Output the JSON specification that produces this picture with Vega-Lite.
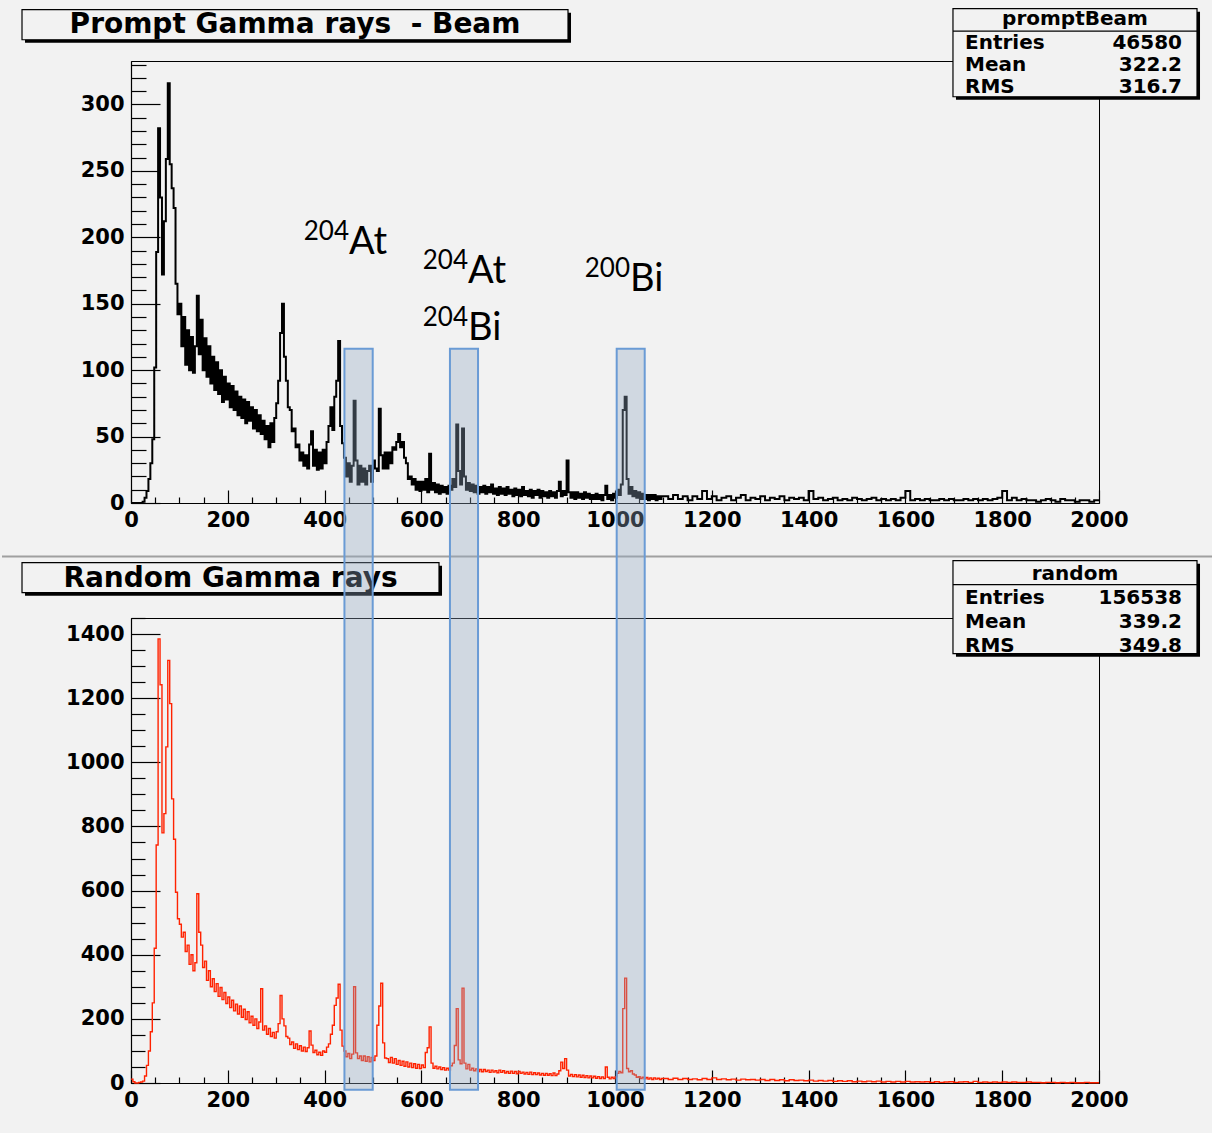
{
"$schema":"https://vega.github.io/schema/vega-lite/v6.json",
"background":"#f2f2f2",
"padding":{"left":0,"top":7,"right":0,"bottom":28},
"bounds":"flush",
"spacing":115,
"config":{
"view":{"stroke":"black","strokeWidth":1},
"axis":{"labelFont":"DejaVu Sans","labelFontWeight":"bold","labelFontSize":21,"labelColor":"black","domainColor":"black","domainWidth":1.2,"tickColor":"black","tickWidth":1.2,"grid":false,"labelFlush":false,"labelOverlap":false,"labelBound":false},
"text":{"font":"Lato","color":"black","baseline":"alphabetic"}
},
"datasets":{
"spec":[
{"e":0,"p":0,"r":12},{"e":4,"p":0,"r":4},{"e":8,"p":0,"r":0},{"e":12,"p":0,"r":0},{"e":16,"p":0,"r":2},{"e":20,"p":0,"r":3},{"e":24,"p":1,"r":6},{"e":28,"p":4,"r":22},{"e":32,"p":9,"r":55},{"e":36,"p":18,"r":100},
{"e":40,"p":30,"r":160},{"e":44,"p":48,"r":250},{"e":48,"p":102,"r":420},{"e":52,"p":189,"r":742},{"e":56,"p":282,"r":1385},{"e":60,"p":230,"r":1242},{"e":64,"p":172,"r":780},{"e":68,"p":212,"r":840},{"e":72,"p":259,"r":1048},{"e":76,"p":316,"r":1318},
{"e":80,"p":255,"r":1183},{"e":84,"p":237,"r":886},{"e":88,"p":222,"r":760},{"e":92,"p":165,"r":595},{"e":96,"p":142,"r":512},{"e":100,"p":150,"r":495},{"e":104,"p":118,"r":455},{"e":108,"p":140,"r":470},{"e":112,"p":104,"r":410},{"e":116,"p":130,"r":430},
{"e":120,"p":100,"r":370},{"e":124,"p":125,"r":400},{"e":128,"p":98,"r":350},{"e":132,"p":118,"r":375},{"e":136,"p":156,"r":590},{"e":140,"p":112,"r":470},{"e":144,"p":138,"r":430},{"e":148,"p":100,"r":360},{"e":152,"p":124,"r":380},{"e":156,"p":95,"r":320},
{"e":160,"p":118,"r":350},{"e":164,"p":90,"r":300},{"e":168,"p":110,"r":325},{"e":172,"p":85,"r":285},{"e":176,"p":106,"r":310},{"e":180,"p":82,"r":270},{"e":184,"p":100,"r":298},{"e":188,"p":76,"r":260},{"e":192,"p":95,"r":282},{"e":196,"p":78,"r":248},
{"e":200,"p":90,"r":268},{"e":204,"p":72,"r":235},{"e":208,"p":88,"r":258},{"e":212,"p":70,"r":225},{"e":216,"p":84,"r":246},{"e":220,"p":66,"r":215},{"e":224,"p":80,"r":240},{"e":228,"p":64,"r":205},{"e":232,"p":78,"r":230},{"e":236,"p":60,"r":198},
{"e":240,"p":76,"r":222},{"e":244,"p":62,"r":188},{"e":248,"p":72,"r":208},{"e":252,"p":56,"r":180},{"e":256,"p":70,"r":200},{"e":260,"p":54,"r":170},{"e":264,"p":66,"r":190},{"e":268,"p":52,"r":294},{"e":272,"p":62,"r":165},{"e":276,"p":48,"r":178},
{"e":280,"p":58,"r":152},{"e":284,"p":42,"r":170},{"e":288,"p":60,"r":145},{"e":292,"p":46,"r":158},{"e":296,"p":64,"r":140},{"e":300,"p":75,"r":160},{"e":304,"p":92,"r":185},{"e":308,"p":128,"r":273},{"e":312,"p":150,"r":200},{"e":316,"p":110,"r":178},
{"e":320,"p":92,"r":145},{"e":324,"p":72,"r":140},{"e":328,"p":70,"r":120},{"e":332,"p":54,"r":128},{"e":336,"p":56,"r":108},{"e":340,"p":42,"r":122},{"e":344,"p":44,"r":104},{"e":348,"p":32,"r":116},{"e":352,"p":38,"r":100},{"e":356,"p":28,"r":112},
{"e":360,"p":36,"r":98},{"e":364,"p":26,"r":110},{"e":368,"p":44,"r":162},{"e":372,"p":54,"r":118},{"e":376,"p":28,"r":95},{"e":380,"p":40,"r":102},{"e":384,"p":25,"r":88},{"e":388,"p":38,"r":96},{"e":392,"p":26,"r":86},{"e":396,"p":40,"r":100},
{"e":400,"p":30,"r":96},{"e":404,"p":46,"r":112},{"e":408,"p":58,"r":122},{"e":412,"p":72,"r":152},{"e":416,"p":55,"r":180},{"e":420,"p":80,"r":242},{"e":424,"p":92,"r":265},{"e":428,"p":122,"r":308},{"e":432,"p":58,"r":165},{"e":436,"p":45,"r":115},
{"e":440,"p":34,"r":100},{"e":444,"p":20,"r":82},{"e":448,"p":30,"r":92},{"e":452,"p":16,"r":76},{"e":456,"p":28,"r":90},{"e":460,"p":77,"r":300},{"e":464,"p":32,"r":94},{"e":468,"p":14,"r":76},{"e":472,"p":28,"r":84},{"e":476,"p":16,"r":70},
{"e":480,"p":26,"r":84},{"e":484,"p":14,"r":68},{"e":488,"p":24,"r":82},{"e":492,"p":28,"r":66},{"e":496,"p":16,"r":80},{"e":500,"p":32,"r":70},{"e":504,"p":26,"r":84},{"e":508,"p":24,"r":180},{"e":512,"p":71,"r":240},{"e":516,"p":36,"r":311},
{"e":520,"p":26,"r":125},{"e":524,"p":38,"r":78},{"e":528,"p":26,"r":76},{"e":532,"p":38,"r":64},{"e":536,"p":30,"r":80},{"e":540,"p":42,"r":62},{"e":544,"p":40,"r":76},{"e":548,"p":46,"r":58},{"e":552,"p":52,"r":70},{"e":556,"p":42,"r":55},
{"e":560,"p":46,"r":68},{"e":564,"p":34,"r":52},{"e":568,"p":30,"r":66},{"e":572,"p":18,"r":50},{"e":576,"p":20,"r":62},{"e":580,"p":14,"r":48},{"e":584,"p":18,"r":60},{"e":588,"p":10,"r":46},{"e":592,"p":16,"r":58},{"e":596,"p":9,"r":45},
{"e":600,"p":16,"r":56},{"e":604,"p":10,"r":48},{"e":608,"p":18,"r":95},{"e":612,"p":8,"r":110},{"e":616,"p":37,"r":175},{"e":620,"p":10,"r":62},{"e":624,"p":15,"r":46},{"e":628,"p":8,"r":52},{"e":632,"p":14,"r":44},{"e":636,"p":7,"r":50},
{"e":640,"p":13,"r":42},{"e":644,"p":8,"r":48},{"e":648,"p":12,"r":40},{"e":652,"p":7,"r":46},{"e":656,"p":13,"r":40},{"e":660,"p":10,"r":54},{"e":664,"p":18,"r":62},{"e":668,"p":12,"r":117},{"e":672,"p":59,"r":232},{"e":676,"p":24,"r":72},
{"e":680,"p":14,"r":60},{"e":684,"p":56,"r":296},{"e":688,"p":20,"r":62},{"e":692,"p":10,"r":44},{"e":696,"p":15,"r":58},{"e":700,"p":9,"r":40},{"e":704,"p":14,"r":46},{"e":708,"p":8,"r":38},{"e":712,"p":13,"r":44},{"e":716,"p":7,"r":36},
{"e":720,"p":12,"r":42},{"e":724,"p":8,"r":35},{"e":728,"p":13,"r":42},{"e":732,"p":7,"r":36},{"e":736,"p":12,"r":40},{"e":740,"p":8,"r":33},{"e":744,"p":14,"r":40},{"e":748,"p":7,"r":34},{"e":752,"p":11,"r":38},{"e":756,"p":6,"r":32},
{"e":760,"p":12,"r":40},{"e":764,"p":7,"r":33},{"e":768,"p":11,"r":38},{"e":772,"p":6,"r":31},{"e":776,"p":12,"r":36},{"e":780,"p":7,"r":30},{"e":784,"p":10,"r":37},{"e":788,"p":5,"r":30},{"e":792,"p":11,"r":36},{"e":796,"p":6,"r":29},
{"e":800,"p":10,"r":36},{"e":804,"p":5,"r":30},{"e":808,"p":12,"r":34},{"e":812,"p":6,"r":28},{"e":816,"p":9,"r":33},{"e":820,"p":5,"r":27},{"e":824,"p":10,"r":34},{"e":828,"p":4,"r":26},{"e":832,"p":9,"r":32},{"e":836,"p":6,"r":26},
{"e":840,"p":10,"r":31},{"e":844,"p":4,"r":25},{"e":848,"p":9,"r":30},{"e":852,"p":5,"r":24},{"e":856,"p":8,"r":30},{"e":860,"p":4,"r":24},{"e":864,"p":9,"r":29},{"e":868,"p":5,"r":23},{"e":872,"p":8,"r":31},{"e":876,"p":4,"r":23},
{"e":880,"p":9,"r":28},{"e":884,"p":16,"r":38},{"e":888,"p":5,"r":65},{"e":892,"p":9,"r":45},{"e":896,"p":6,"r":76},{"e":900,"p":32,"r":40},{"e":904,"p":8,"r":22},{"e":908,"p":4,"r":27},{"e":912,"p":8,"r":20},{"e":916,"p":3,"r":26},
{"e":920,"p":8,"r":19},{"e":924,"p":4,"r":25},{"e":928,"p":7,"r":18},{"e":932,"p":3,"r":24},{"e":936,"p":8,"r":17},{"e":940,"p":4,"r":23},{"e":944,"p":7,"r":16},{"e":948,"p":3,"r":22},{"e":952,"p":6,"r":16},{"e":956,"p":3,"r":21},
{"e":960,"p":7,"r":15},{"e":964,"p":3,"r":20},{"e":968,"p":6,"r":14},{"e":972,"p":2,"r":19},{"e":976,"p":6,"r":14},{"e":980,"p":13,"r":50},{"e":984,"p":3,"r":18},{"e":988,"p":6,"r":13},{"e":992,"p":2,"r":18},{"e":996,"p":7,"r":14},
{"e":1000,"p":4,"r":19},{"e":1004,"p":10,"r":30},{"e":1008,"p":6,"r":36},{"e":1012,"p":14,"r":32},{"e":1016,"p":70,"r":232},{"e":1020,"p":80,"r":327},{"e":1024,"p":18,"r":45},{"e":1028,"p":7,"r":35},{"e":1032,"p":12,"r":38},{"e":1036,"p":5,"r":28},
{"e":1040,"p":9,"r":25},{"e":1044,"p":4,"r":18},{"e":1048,"p":8,"r":20},{"e":1052,"p":3,"r":14},{"e":1056,"p":7,"r":18},{"e":1060,"p":3,"r":13},{"e":1064,"p":6,"r":17},{"e":1068,"p":2,"r":12},{"e":1072,"p":6,"r":16},{"e":1076,"p":3,"r":11},
{"e":1080,"p":6,"r":16},{"e":1084,"p":2,"r":12},{"e":1088,"p":5,"r":15},{"e":1092,"p":3,"r":11},{"e":1096,"p":5,"r":14},
{"e":1100,"p":5,"r":14},{"e":1110,"p":3,"r":11},{"e":1120,"p":6,"r":15},{"e":1130,"p":3,"r":11},{"e":1140,"p":5,"r":14},{"e":1150,"p":2,"r":11},{"e":1160,"p":5,"r":13},{"e":1170,"p":3,"r":10},{"e":1180,"p":9,"r":14},{"e":1190,"p":3,"r":11},
{"e":1200,"p":5,"r":16},{"e":1210,"p":2,"r":11},{"e":1220,"p":4,"r":13},{"e":1230,"p":5,"r":10},{"e":1240,"p":2,"r":12},{"e":1250,"p":4,"r":9},{"e":1260,"p":6,"r":12},{"e":1270,"p":2,"r":10},{"e":1280,"p":4,"r":11},{"e":1290,"p":3,"r":9},
{"e":1300,"p":5,"r":11},{"e":1310,"p":2,"r":8},{"e":1320,"p":4,"r":11},{"e":1330,"p":3,"r":8},{"e":1340,"p":5,"r":10},{"e":1350,"p":2,"r":7},{"e":1360,"p":4,"r":10},{"e":1370,"p":3,"r":8},{"e":1380,"p":4,"r":9},{"e":1390,"p":2,"r":7},
{"e":1400,"p":9,"r":9},{"e":1410,"p":3,"r":6},{"e":1420,"p":4,"r":8},{"e":1430,"p":2,"r":6},{"e":1440,"p":3,"r":8},{"e":1450,"p":4,"r":5},{"e":1460,"p":2,"r":7},{"e":1470,"p":3,"r":5},{"e":1480,"p":2,"r":7},{"e":1490,"p":4,"r":4},
{"e":1500,"p":3,"r":6},{"e":1510,"p":2,"r":4},{"e":1520,"p":3,"r":6},{"e":1530,"p":4,"r":4},{"e":1540,"p":2,"r":6},{"e":1550,"p":3,"r":3},{"e":1560,"p":2,"r":5},{"e":1570,"p":3,"r":3},{"e":1580,"p":2,"r":5},{"e":1590,"p":4,"r":3},
{"e":1600,"p":9,"r":5},{"e":1610,"p":2,"r":3},{"e":1620,"p":3,"r":4},{"e":1630,"p":2,"r":3},{"e":1640,"p":3,"r":4},{"e":1650,"p":2,"r":2},{"e":1660,"p":2,"r":4},{"e":1670,"p":3,"r":2},{"e":1680,"p":2,"r":3},{"e":1690,"p":3,"r":4},
{"e":1700,"p":2,"r":2},{"e":1710,"p":2,"r":3},{"e":1720,"p":3,"r":4},{"e":1730,"p":2,"r":2},{"e":1740,"p":3,"r":5},{"e":1750,"p":2,"r":2},{"e":1760,"p":3,"r":3},{"e":1770,"p":2,"r":2},{"e":1780,"p":3,"r":3},{"e":1790,"p":4,"r":2},
{"e":1800,"p":9,"r":3},{"e":1810,"p":2,"r":2},{"e":1820,"p":4,"r":3},{"e":1830,"p":2,"r":2},{"e":1840,"p":3,"r":2},{"e":1850,"p":2,"r":3},{"e":1860,"p":2,"r":2},{"e":1870,"p":1,"r":2},{"e":1880,"p":2,"r":1},{"e":1890,"p":3,"r":2},
{"e":1900,"p":2,"r":2},{"e":1910,"p":1,"r":1},{"e":1920,"p":3,"r":2},{"e":1930,"p":2,"r":1},{"e":1940,"p":2,"r":2},{"e":1950,"p":1,"r":1},{"e":1960,"p":2,"r":1},{"e":1970,"p":2,"r":2},{"e":1980,"p":1,"r":1},{"e":1990,"p":2,"r":1},{"e":2000,"p":2,"r":1}
],
"win":[{"lo":441,"hi":499.4},{"lo":659,"hi":717},{"lo":1003.5,"hi":1061.4}]
},
"vconcat":[
{
"width":968,"height":442,
"layer":[
{"data":{"name":"spec"},
"mark":{"type":"line","interpolate":"step-after","color":"black","strokeWidth":2},
"encoding":{
"x":{"field":"e","type":"quantitative","scale":{"domain":[0,2000],"nice":false,"zero":false},
"axis":{"title":null,"format":"d","tickCount":200,"labelOverlap":false,"labelBound":false,"labelFlush":false,"values":[0,50,100,150,200,250,300,350,400,450,500,550,600,650,700,750,800,850,900,950,1000,1050,1100,1150,1200,1250,1300,1350,1400,1450,1500,1550,1600,1650,1700,1750,1800,1850,1900,1950,2000],
"labelExpr":"datum.value % 200 === 0 ? datum.label : ''",
"labelFontSize":{"condition":{"test":"datum.value % 200 === 0","value":21},"value":1},
"tickSize":{"condition":{"test":"datum.value % 200 === 0","value":-13},"value":-6},"labelPadding":19}},
"y":{"field":"p","type":"quantitative","scale":{"domain":[0,332.7],"nice":false},
"axis":{"title":null,"format":"d","tickCount":200,"labelOverlap":false,"labelBound":false,"labelFlush":false,"values":[0,10,20,30,40,50,60,70,80,90,100,110,120,130,140,150,160,170,180,190,200,210,220,230,240,250,260,270,280,290,300,310,320,330],
"labelExpr":"datum.value % 50 === 0 ? datum.label : ''",
"labelFontSize":{"condition":{"test":"datum.value % 50 === 0","value":21},"value":1},
"tickSize":{"condition":{"test":"datum.value % 50 === 0","value":-29},"value":-15},"labelPadding":36}}
}},
{"data":{"values":[{}]},"mark":{"type":"rule","color":"#a0a0a0","strokeWidth":2},
"encoding":{"x":{"datum":-266.5},"x2":{"datum":2237.6},"y":{"datum":-40.3}}},
{"data":{"values":[{}]},"mark":{"type":"rect","fill":"black"},
"encoding":{"x":{"datum":-219},"x2":{"datum":909.1},"y":{"datum":369.0},"y2":{"datum":346.4}}},
{"data":{"values":[{}]},"mark":{"type":"rect","fill":"#f2f2f2","stroke":"black","strokeWidth":1.2},
"encoding":{"x":{"datum":-225.2},"x2":{"datum":902.9},"y":{"datum":371.3},"y2":{"datum":348.7}}},
{"data":{"values":[{}]},"mark":{"type":"text","font":"DejaVu Sans","fontWeight":"bold","fontSize":28,"align":"center"},
"encoding":{"x":{"datum":338.9},"y":{"datum":353.9},"text":{"value":"Prompt Gamma rays\u00a0 - Beam"}}},
{"data":{"values":[{}]},"mark":{"type":"rect","fill":"black"},
"encoding":{"x":{"datum":1704.5},"x2":{"datum":2208.7},"y":{"datum":369.8},"y2":{"datum":303.5}}},
{"data":{"values":[{}]},"mark":{"type":"rect","fill":"#f2f2f2","stroke":"black","strokeWidth":1.2},
"encoding":{"x":{"datum":1698.3},"x2":{"datum":2202.5},"y":{"datum":372.1},"y2":{"datum":305.8}}},
{"data":{"values":[{}]},"mark":{"type":"rule","color":"black","strokeWidth":1.2},
"encoding":{"x":{"datum":1698.3},"x2":{"datum":2202.5},"y":{"datum":355.2}}},
{"data":{"values":[{}]},"mark":{"type":"text","font":"DejaVu Sans","fontWeight":"bold","fontSize":20,"align":"center"},
"encoding":{"x":{"datum":1950.4},"y":{"datum":359.9},"text":{"value":"promptBeam"}}},
{"data":{"values":[{}]},"mark":{"type":"text","font":"DejaVu Sans","fontWeight":"bold","fontSize":20,"align":"left","lineHeight":22},
"encoding":{"x":{"datum":1723.1},"y":{"datum":341.9},"text":{"value":["Entries","Mean","RMS"]}}},
{"data":{"values":[{}]},"mark":{"type":"text","font":"DejaVu Sans","fontWeight":"bold","fontSize":20,"align":"right","lineHeight":22},
"encoding":{"x":{"datum":2171.5},"y":{"datum":341.9},"text":{"value":["46580","322.2","316.7"]}}},
{"data":{"values":[{}]},"mark":{"type":"text","fontSize":26,"align":"right"},
"encoding":{"x":{"datum":450.4},"y":{"datum":198.2},"text":{"value":"204"}}},
{"data":{"values":[{}]},"mark":{"type":"text","fontSize":38,"align":"left"},
"encoding":{"x":{"datum":450.4},"y":{"datum":187.7},"text":{"value":"At"}}},
{"data":{"values":[{}]},"mark":{"type":"text","fontSize":26,"align":"right"},
"encoding":{"x":{"datum":696.3},"y":{"datum":176.4},"text":{"value":"204"}}},
{"data":{"values":[{}]},"mark":{"type":"text","fontSize":38,"align":"left"},
"encoding":{"x":{"datum":696.3},"y":{"datum":165.8},"text":{"value":"At"}}},
{"data":{"values":[{}]},"mark":{"type":"text","fontSize":26,"align":"right"},
"encoding":{"x":{"datum":696.3},"y":{"datum":133.1},"text":{"value":"204"}}},
{"data":{"values":[{}]},"mark":{"type":"text","fontSize":38,"align":"left"},
"encoding":{"x":{"datum":696.3},"y":{"datum":122.9},"text":{"value":"Bi"}}},
{"data":{"values":[{}]},"mark":{"type":"text","fontSize":26,"align":"right"},
"encoding":{"x":{"datum":1031},"y":{"datum":170},"text":{"value":"200"}}},
{"data":{"values":[{}]},"mark":{"type":"text","fontSize":38,"align":"left"},
"encoding":{"x":{"datum":1031},"y":{"datum":159.8},"text":{"value":"Bi"}}}
]
},
{
"width":968,"height":465,
"layer":[
{"data":{"name":"spec"},
"mark":{"type":"line","interpolate":"step-after","color":"#ff2200","strokeWidth":1.4},
"encoding":{
"x":{"field":"e","type":"quantitative","scale":{"domain":[0,2000],"nice":false,"zero":false},
"axis":{"title":null,"format":"d","tickCount":200,"labelOverlap":false,"labelBound":false,"labelFlush":false,"values":[0,50,100,150,200,250,300,350,400,450,500,550,600,650,700,750,800,850,900,950,1000,1050,1100,1150,1200,1250,1300,1350,1400,1450,1500,1550,1600,1650,1700,1750,1800,1850,1900,1950,2000],
"labelExpr":"datum.value % 200 === 0 ? datum.label : ''",
"labelFontSize":{"condition":{"test":"datum.value % 200 === 0","value":21},"value":1},
"tickSize":{"condition":{"test":"datum.value % 200 === 0","value":-13},"value":-6},"labelPadding":19}},
"y":{"field":"r","type":"quantitative","scale":{"domain":[0,1450],"nice":false},
"axis":{"title":null,"format":"d","tickCount":200,"labelOverlap":false,"labelBound":false,"labelFlush":false,"values":[0,50,100,150,200,250,300,350,400,450,500,550,600,650,700,750,800,850,900,950,1000,1050,1100,1150,1200,1250,1300,1350,1400,1450],
"labelExpr":"datum.value % 200 === 0 ? datum.label : ''",
"labelFontSize":{"condition":{"test":"datum.value % 200 === 0","value":21},"value":1},
"tickSize":{"condition":{"test":"datum.value % 200 === 0","value":-29},"value":-14},"labelPadding":36}}
}},
{"data":{"values":[{}]},"mark":{"type":"rect","fill":"black"},
"encoding":{"x":{"datum":-219},"x2":{"datum":642.6},"y":{"datum":1613},"y2":{"datum":1519.6}}},
{"data":{"values":[{}]},"mark":{"type":"rect","fill":"#f2f2f2","stroke":"black","strokeWidth":1.2},
"encoding":{"x":{"datum":-225.2},"x2":{"datum":636.4},"y":{"datum":1622.4},"y2":{"datum":1528.9}}},
{"data":{"values":[{}]},"mark":{"type":"text","font":"DejaVu Sans","fontWeight":"bold","fontSize":28,"align":"center"},
"encoding":{"x":{"datum":205.6},"y":{"datum":1545.9},"text":{"value":"Random Gamma rays"}}},
{"data":{"values":[{}]},"mark":{"type":"rect","fill":"black"},
"encoding":{"x":{"datum":1704.5},"x2":{"datum":2208.7},"y":{"datum":1619.3},"y2":{"datum":1329.3}}},
{"data":{"values":[{}]},"mark":{"type":"rect","fill":"#f2f2f2","stroke":"black","strokeWidth":1.2},
"encoding":{"x":{"datum":1698.3},"x2":{"datum":2202.5},"y":{"datum":1628.6},"y2":{"datum":1338.6}}},
{"data":{"values":[{}]},"mark":{"type":"rule","color":"black","strokeWidth":1.2},
"encoding":{"x":{"datum":1698.3},"x2":{"datum":2202.5},"y":{"datum":1553.8}}},
{"data":{"values":[{}]},"mark":{"type":"text","font":"DejaVu Sans","fontWeight":"bold","fontSize":20,"align":"center"},
"encoding":{"x":{"datum":1950.4},"y":{"datum":1569.7},"text":{"value":"random"}}},
{"data":{"values":[{}]},"mark":{"type":"text","font":"DejaVu Sans","fontWeight":"bold","fontSize":20,"align":"left","lineHeight":24},
"encoding":{"x":{"datum":1723.1},"y":{"datum":1494.5},"text":{"value":["Entries","Mean","RMS"]}}},
{"data":{"values":[{}]},"mark":{"type":"text","font":"DejaVu Sans","fontWeight":"bold","fontSize":20,"align":"right","lineHeight":24},
"encoding":{"x":{"datum":2171.5},"y":{"datum":1494.5},"text":{"value":["156538","339.2","349.8"]}}},
{"data":{"name":"win"},"mark":{"type":"rect","fill":"#91a8c4","fillOpacity":0.35,"stroke":"#6a9bd5","strokeWidth":2},
"encoding":{"x":{"field":"lo","type":"quantitative"},"x2":{"field":"hi"},"y":{"datum":2289.6},"y2":{"datum":-20.9}}}
]
}
]
}
